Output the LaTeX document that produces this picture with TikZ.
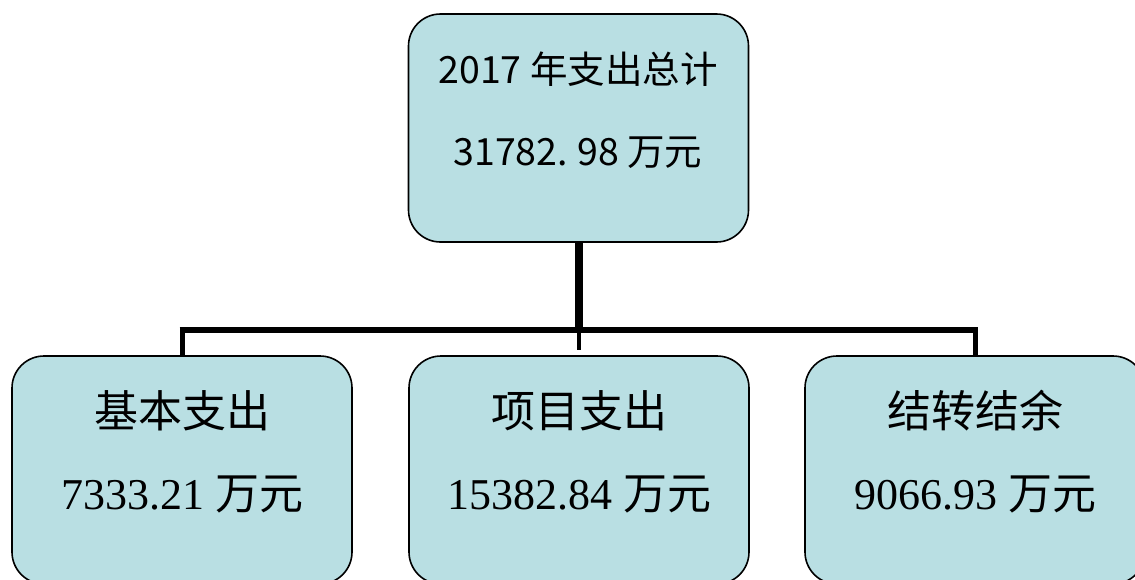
\documentclass[tikz,border=0pt]{standalone}
\usepackage{fontspec}
\setmainfont{Liberation Serif}
\newfontfamily\cjksans{Noto Sans CJK SC}
\newfontfamily\cjkserif{Noto Sans CJK SC}
\definecolor{boxfill}{HTML}{B9DFE3}
\tikzset{
  orgbox/.style={draw=black, line width=1.6pt, fill=boxfill, rounded corners=32pt,
    minimum width=340pt, minimum height=228pt, inner sep=0pt},
  toptext/.style={align=center, font={\cjksans\fontsize{37.5}{82}\selectfont}},
  subtext/.style={align=center, font={\fontsize{44}{82}\selectfont}},
  link/.style={draw=black, line cap=butt}
}
\begin{document}
\begin{tikzpicture}[x=1pt,y=-1pt]
\fill[white] (0,0) rectangle (1135,579);
\useasboundingbox (0,0) rectangle (1135,579);
\begin{scope}
\clip (0,0) rectangle (1135,579);
\node[orgbox] (top) at (578.5,128) {};
\node[orgbox] (b1) at (182,470) {};
\node[orgbox] (b2) at (579,470) {};
\node[orgbox] (b3) at (975,470) {};
\end{scope}
\node[toptext] (toplbl) at (578,110) {2017 年支出总计\\31782.\kern0.25em98 万元};
\node[subtext] (b1lbl) at (182,452) {{\cjkserif 基本支出}\\7333.21 {\cjkserif 万元}};
\node[subtext] (b2lbl) at (579,452) {{\cjkserif 项目支出}\\15382.84 {\cjkserif 万元}};
\node[subtext] (b3lbl) at (975,452) {{\cjkserif 结转结余}\\9066.93 {\cjkserif 万元}};
\coordinate (hub) at (top.south |- 0,330);
\coordinate (hl) at (b1.north |- hub);
\coordinate (hr) at (b3.north |- hub);
\coordinate (stub) at (hub |- 0,350);
\draw[link, line width=8pt] (top.south) -- ([yshift=3pt]hub);
\draw[link, line width=6pt] ([xshift=-2.5pt]hl) -- ([xshift=2.5pt]hr);
\draw[link, line width=5pt] (hl) -- (b1.north);
\draw[link, line width=5pt] (hr) -- (b3.north);
\draw[link, line width=4pt] (hub) -- (stub);
\end{tikzpicture}
\end{document}
